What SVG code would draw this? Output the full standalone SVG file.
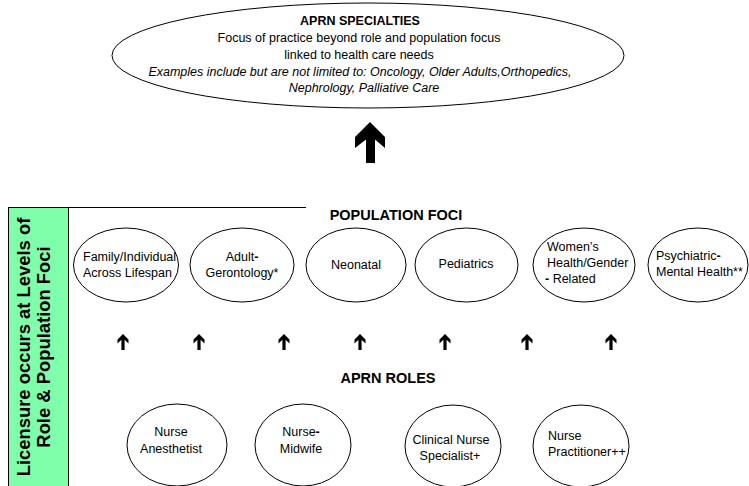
<svg xmlns="http://www.w3.org/2000/svg" xmlns:xlink="http://www.w3.org/1999/xlink" width="749" height="486" viewBox="0 0 749 486">
<style>
text{font-family:"Liberation Sans",Arial,Helvetica,sans-serif;font-size:12.5px;fill:#000}
.b{font-weight:bold}
.h{font-weight:bold;font-size:14.5px}
.i{font-style:italic}
.c{text-anchor:middle}
.node{fill:#fff;stroke:#000;stroke-width:1}
.side{font-weight:bold;font-size:18.4px;text-anchor:middle}
</style>
<defs>
<path id="sa" d="M0,0 L5.5,5.5 L5.5,9.5 L1.6,5.8 L1.6,16 L-1.6,16 L-1.6,5.8 L-5.5,9.5 L-5.5,5.5 Z" fill="#000"/>
</defs>
<rect width="749" height="486" fill="#fff"/>

<g id="licensure-bar">
<rect x="8.5" y="207.5" width="60" height="290" fill="#80FFAA" stroke="#000" stroke-width="1"/>
<line x1="8.5" y1="207.5" x2="306" y2="207.5" stroke="#000" stroke-width="1"/>
<text class="side" transform="translate(29.5,347) rotate(-90)">Licensure occurs at Levels of</text>
<text class="side" transform="translate(49.5,347) rotate(-90)">Role &amp; Population Foci</text>
</g>

<g id="specialties">
<ellipse class="node" cx="368" cy="55.5" rx="256" ry="52.5"/>
<text class="b c" x="360" y="25">APRN SPECIALTIES</text>
<text class="c" x="359" y="42">Focus of practice beyond role and population focus</text>
<text class="c" x="359" y="59">linked to health care needs</text>
<text class="i c" x="360" y="75.5">Examples include but are not limited to: Oncology, Older Adults,Orthopedics,</text>
<text class="i c" x="364" y="92">Nephrology, Palliative Care</text>
</g>

<text id="population-foci-title" class="h c" x="396" y="220">POPULATION FOCI</text>

<g id="family">
<ellipse class="node" cx="126" cy="265" rx="52.5" ry="37"/>
<text x="83" y="261">Family/Individual</text>
<text x="83" y="277">Across Lifespan</text>
</g>
<g id="adult-gerontology">
<ellipse class="node" cx="242" cy="265" rx="52" ry="37"/>
<text class="c" x="242" y="261">Adult<tspan class="b">-</tspan></text>
<text class="c" x="242" y="277">Gerontology*</text>
</g>
<g id="neonatal">
<ellipse class="node" cx="356" cy="265" rx="50" ry="37"/>
<text class="c" x="356" y="269">Neonatal</text>
</g>
<g id="pediatrics">
<ellipse class="node" cx="466.5" cy="265" rx="51.5" ry="37"/>
<text class="c" x="466" y="268">Pediatrics</text>
</g>
<g id="womens-health">
<ellipse class="node" cx="584" cy="265" rx="51" ry="37"/>
<text x="547" y="251">Women’s</text>
<text x="547" y="267">Health/Gender</text>
<text x="545" y="283"><tspan class="b">-</tspan> Related</text>
</g>
<g id="psychiatric">
<ellipse class="node" cx="698" cy="265" rx="50" ry="37"/>
<text x="656" y="260">Psychiatric<tspan class="b">-</tspan></text>
<text x="656" y="276">Mental Health**</text>
</g>

<g id="connectors">
<path d="M370,122 L385,137 L385,148 L375,139.5 L375,163 L366,163 L366,139.5 L355,148 L355,137 Z" fill="#000"/>
<use xlink:href="#sa" x="123" y="334"/>
<use xlink:href="#sa" x="199" y="334"/>
<use xlink:href="#sa" x="284" y="334"/>
<use xlink:href="#sa" x="360" y="334"/>
<use xlink:href="#sa" x="445" y="334"/>
<use xlink:href="#sa" x="527" y="334"/>
<use xlink:href="#sa" x="611" y="334"/>
</g>

<text id="aprn-roles-title" class="h c" x="388" y="383">APRN ROLES</text>

<g id="nurse-anesthetist">
<ellipse class="node" cx="177" cy="445" rx="50" ry="41"/>
<text class="c" x="171" y="436">Nurse</text>
<text class="c" x="171" y="453">Anesthetist</text>
</g>
<g id="nurse-midwife">
<ellipse class="node" cx="303" cy="445" rx="48" ry="41"/>
<text class="c" x="301" y="436">Nurse<tspan class="b">-</tspan></text>
<text class="c" x="301" y="453">Midwife</text>
</g>
<g id="clinical-nurse-specialist">
<ellipse class="node" cx="453" cy="446" rx="48" ry="41"/>
<text class="c" x="451" y="444">Clinical Nurse</text>
<text class="c" x="450" y="460">Specialist+</text>
</g>
<g id="nurse-practitioner">
<ellipse class="node" cx="581" cy="446" rx="48" ry="41"/>
<text x="548" y="440">Nurse</text>
<text x="548" y="456">Practitioner++</text>
</g>
</svg>
